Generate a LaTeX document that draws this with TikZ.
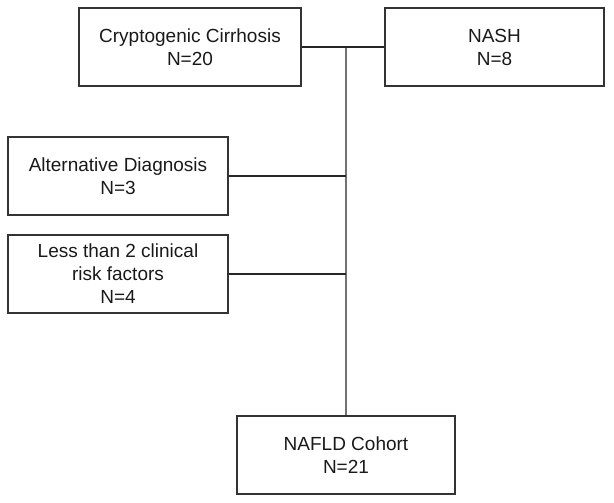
\documentclass[tikz,border=0pt]{standalone}
\usepackage{fontspec}
\setmainfont{Liberation Sans}
\begin{document}
\begin{tikzpicture}[x=1pt,y=-1pt,
  box/.style={draw=black!80, line width=1.6pt, minimum height=78pt, inner sep=0pt,
    align=center, font=\fontsize{19}{23}\selectfont, text=black!90},
  conn/.style={draw=black!85, line width=1.4pt},
  trunk/.style={draw=black!55, line width=1.6pt}]
\useasboundingbox (0,0) rectangle (614,503);
\node[box, minimum width=222pt] (cc) at (190,47) {Cryptogenic Cirrhosis\\N=20};
\node[box, minimum width=219pt] (nash) at (494.5,47) {NASH\\N=8};
\node[box, minimum width=220pt] (alt) at (118,176) {Alternative Diagnosis\\N=3};
\node[box, minimum width=220pt] (less) at (118,274) {Less than 2 clinical\\risk factors\\N=4};
\node[box, minimum width=218pt] (nafld) at (346,455) {NAFLD Cohort\\N=21};
\coordinate (j) at (nafld.north |- cc.east);
\draw[trunk] (j) -- (nafld.north);
\draw[conn] (cc.east) -- (nash.west);
\draw[conn] (alt.east) -- (alt.east -| nafld.north);
\draw[conn] (less.east) -- (less.east -| nafld.north);
\end{tikzpicture}
\end{document}
